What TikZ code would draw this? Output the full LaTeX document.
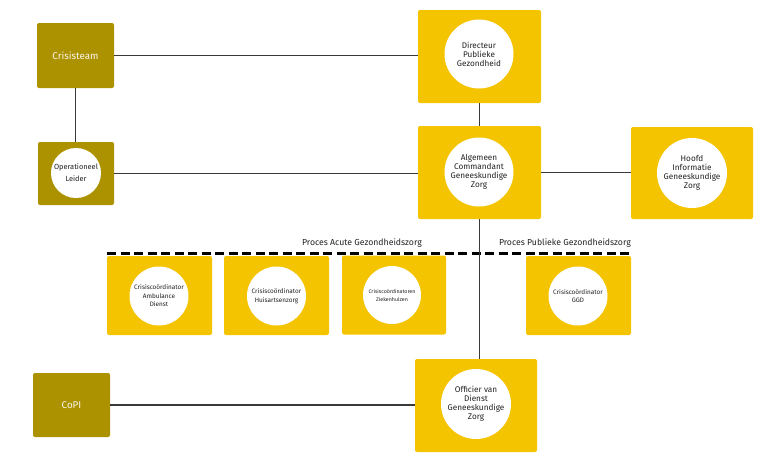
\documentclass[tikz,border=0pt]{standalone}
\usepackage{fontspec}
\setmainfont{Fira Sans}
\definecolor{olive}{HTML}{AD9200}
\definecolor{gold}{HTML}{F4C400}
\definecolor{linec}{HTML}{3A3A3A}
\definecolor{txt}{HTML}{222222}
\begin{document}
\begin{tikzpicture}[x=1pt,y=-1pt,
  darkbox/.style={fill=olive,rounded corners=2pt,minimum width=#1,inner sep=0pt,text=white!92!olive,font=\fontsize{9.8}{11}\selectfont},
  ybox/.style={fill=gold,rounded corners=2pt,inner sep=0pt},
  disc/.style={circle,fill=white,minimum size=#1,inner sep=0pt,align=center,text=txt},
  big/.style={font=\fontsize{8.2}{9}\selectfont},
  oltext/.style={font=\fontsize{7.4}{12}\selectfont},
  small/.style={font=\fontsize{6.4}{8.5}\selectfont},
  tiny/.style={font=\fontsize{5.3}{8}\selectfont},
  conn/.style={draw=linec,line width=1.3pt},
  lbl/.style={font=\fontsize{8.7}{10}\selectfont,text=txt,inner sep=0pt}]
\useasboundingbox (0,0) rectangle (768,461);

% dark boxes
\node[darkbox=77pt,minimum height=65pt] (ct) at (75.5,55.5) {Crisisteam};
\node[darkbox=76pt,minimum height=63pt] (ol) at (76,173.5) {};
\node[disc=50pt,oltext] (olc) at (76,173) {Operationeel\\Leider};
\node[darkbox=77pt,minimum height=64pt] (copi) at (71.5,405) {CoPI};

% top yellow boxes
\node[ybox,minimum width=123pt,minimum height=93pt] (dpg) at (479.5,56.5) {};
\node[disc=69pt,big] (dpgc) at (479,54) {Directeur\\Publieke\\Gezondheid};
\node[ybox,minimum width=123pt,minimum height=93pt] (acgz) at (479.5,172.5) {};
\node[disc=69pt,big] (acgzc) at (479,172) {Algemeen\\Commandant\\Geneeskundige\\Zorg};
\node[ybox,minimum width=122pt,minimum height=92pt] (hign) at (692,173) {};
\node[disc=70pt,big] (hignc) at (692,173) {Hoofd\\Informatie\\Geneeskundige\\Zorg};
\node[ybox,minimum width=122pt,minimum height=93pt] (ovd) at (476,405.5) {};
\node[disc=70pt,big] (ovdc) at (476,404) {Officier van\\Dienst\\Geneeskundige\\Zorg};

% lower row
\node[ybox,minimum width=105pt,minimum height=79pt] (b1) at (159.5,295.5) {};
\node[disc=59pt,small] (b1c) at (159,296) {Crisiscoördinator\\Ambulance\\Dienst};
\node[ybox,minimum width=105pt,minimum height=79pt] (b2) at (276.5,295.5) {};
\node[disc=59pt,small] (b2c) at (276.5,296) {Crisiscoördinator\\Huisartsenzorg};
\node[ybox,minimum width=104pt,minimum height=79pt] (b3) at (394,295) {};
\node[disc=58pt,tiny] (b3c) at (392,295) {Crisiscoördinatoren\\Ziekenhuizen};
\node[ybox,minimum width=105pt,minimum height=79pt] (b4) at (578.5,295.5) {};
\node[disc=59pt,small] (b4c) at (578,296) {Crisiscoördinator\\GGD};

% dashed process line
\coordinate (dl) at (107,253);
\coordinate (dr) at (631,253);
\draw[line width=3pt,dash pattern=on 9pt off 4.5pt,black] (dl) -- (dr);
\node[lbl,anchor=base east] (pa) at (422,245) {Proces Acute Gezondheidszorg};
\node[lbl,anchor=base east] (pp) at (631,245) {Proces Publieke Gezondheidszorg};

% connectors
\draw[conn] (ct.east) -- (ct.east -| dpg.west);
\draw[conn] (ct.south) -- (ct.south |- ol.north);
\draw[conn] (ol.east) -- (ol.east -| acgz.west);
\draw[conn] (dpg.south) -- (acgz.north);
\draw[conn] (acgz.east) -- (acgz.east -| hign.west);
\draw[conn] (acgz.south) -- (acgz.south |- ovd.north);
\draw[conn] (copi.east) -- (copi.east -| ovd.west);
\end{tikzpicture}
\end{document}
